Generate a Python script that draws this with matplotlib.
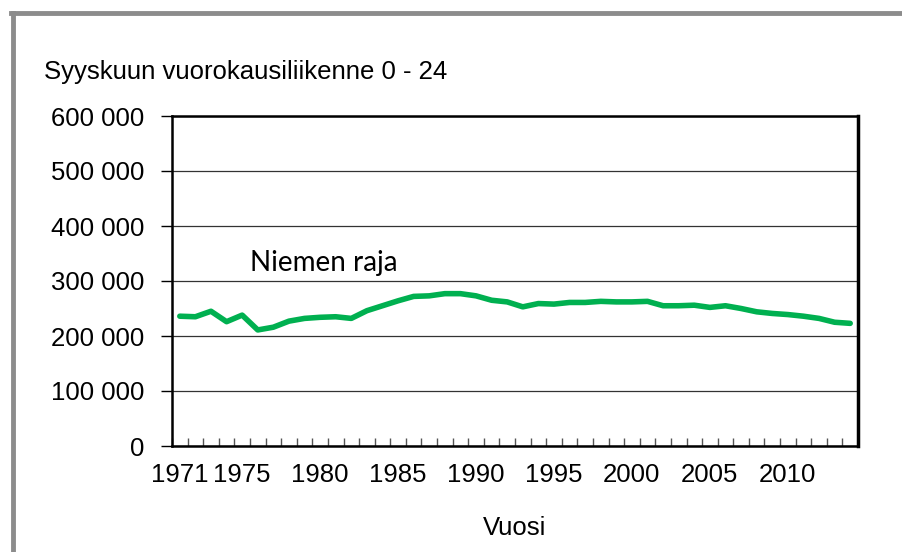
import matplotlib.pyplot as plt
from matplotlib.lines import Line2D

years = list(range(1971, 2015))
traffic = [236000, 235000, 245000, 226000, 238000, 211000, 216000, 227000, 232000, 234000,
           235000, 232000, 246000, 255000, 264000, 272000, 273000, 277000, 277000, 273000,
           265000, 262000, 253000, 259000, 258000, 261000, 261000, 263000, 262000, 262000,
           263000, 255000, 255000, 256000, 252000, 255000, 250000, 244000, 241000, 239000,
           236000, 232000, 225000, 223000]
label_years = [1971, 1975, 1980, 1985, 1990, 1995, 2000, 2005, 2010]
y_ticks = [0, 100000, 200000, 300000, 400000, 500000, 600000]

plt.rcParams['font.family'] = ['Liberation Sans', 'DejaVu Sans']

fig = plt.figure(figsize=(9.02, 5.52), dpi=100)
ax = fig.add_axes([172 / 902, 1 - 446 / 552, 686 / 902, 330 / 552])

x = list(range(len(years)))
ax.plot(x, traffic, color='#00B050', linewidth=4, solid_capstyle='round', zorder=3)

ax.set_xlim(-0.5, len(years) - 0.5)
ax.set_ylim(0, 600000)

ax.set_yticks(y_ticks)
ax.set_yticklabels([f'{v:,}'.replace(',', ' ') for v in y_ticks], fontsize=18.5)
ax.tick_params(axis='y', direction='out', length=8, width=1, pad=12)

ax.set_xticks([years.index(yr) for yr in label_years])
ax.set_xticklabels([str(yr) for yr in label_years], fontsize=18.5)
ax.tick_params(axis='x', which='major', length=0, pad=12)
ax.set_xticks([i - 0.5 for i in range(len(years) + 1)], minor=True)
ax.tick_params(axis='x', which='minor', direction='in', length=6, width=1, color='#555555')

ax.grid(axis='y', color='#333333', linewidth=0.9)
ax.set_axisbelow(True)
for side in ['left', 'bottom', 'top']:
    ax.spines[side].set_linewidth(1.8)
ax.spines['right'].set_linewidth(2.5)

ax.set_xlabel('Vuosi', fontsize=18.5, labelpad=21)

fig.text(44 / 902, 1 - 72 / 552, 'Syyskuun vuorokausiliikenne 0 - 24', fontsize=18.5,
         ha='left', va='center')
ax.text(250 / 902, 1 - 263 / 552, 'Niemen raja', transform=fig.transFigure, fontsize=20,
        family=['Lato', 'DejaVu Sans'], ha='left', va='center')

# grey frame of the chart area (top and left edges visible)
fig.add_artist(Line2D([13 / 902, 13 / 902], [0, 1 - 13 / 552], transform=fig.transFigure,
                      color='#8c8c8c', linewidth=3.5))
fig.add_artist(Line2D([11 / 902, 1], [1 - 13 / 552, 1 - 13 / 552], transform=fig.transFigure,
                      color='#8c8c8c', linewidth=3.5))

fig.savefig('out.png', dpi=100)
